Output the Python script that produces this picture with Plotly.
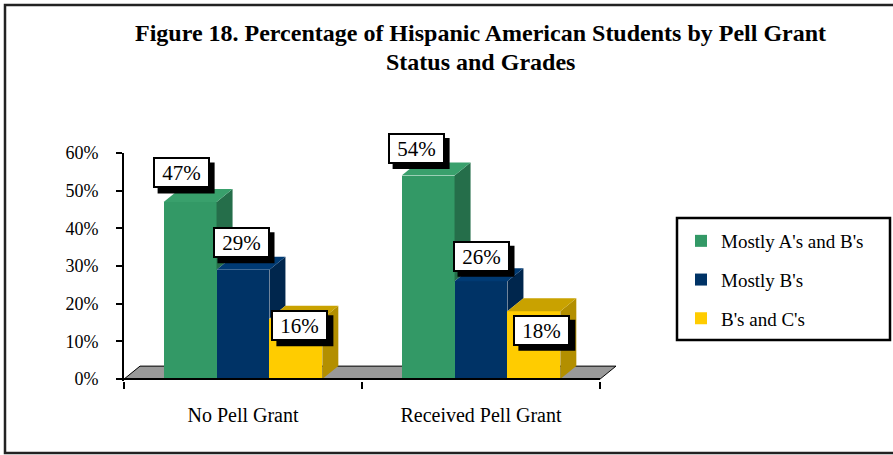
import plotly.graph_objects as go

# ---- data ----
categories = ["No Pell Grant", "Received Pell Grant"]
series_names = ["Mostly A's and B's", "Mostly B's", "B's and C's"]
mostly_ab = [0.47, 0.54]
mostly_b = [0.29, 0.26]
b_and_c = [0.16, 0.18]
y_ticks = [0.0, 0.1, 0.2, 0.3, 0.4, 0.5, 0.6]
title_lines = ["Figure 18. Percentage of Hispanic American Students by Pell Grant",
               "Status and Grades"]

series_values = [mostly_ab, mostly_b, b_and_c]

# ---- styling ----
front_colors = ["#339966", "#003366", "#FFCC00"]
side_colors = ["#256e4a", "#00264d", "#b38f00"]
top_colors = ["#39a06c", "#003a73", "#c9a200"]
FONT = "Liberation Serif"

# Label nudges (pixels) relative to the top-centre of each bar's front face
label_nudge_x = [[-9, -12], [-2, 0], [4, 8]]
label_nudge_y = [[29, 27], [27, 25], [-7, -19]]

# ---- geometry of the plotting area ----
W, H = 893, 455
ML, MR, MT, MB = 124, 273, 153, 74
plot_w = W - ML - MR
plot_h = H - MT - MB
x_lo = -0.5
px_per_x = 238.0
x_hi = x_lo + plot_w / px_per_x
y_lo, y_hi = -0.005, 0.6
px_per_y = plot_h / (y_hi - y_lo)

# 3D depth of bars and floor, converted to data units
dx = 16 / px_per_x
dy = 13 / px_per_y

n = len(series_values)
group_w = 2 / 3
bar_w = group_w / n
offsets = [-group_w / 2 + i * bar_w for i in range(n)]
xpos = list(range(len(categories)))


def px_x(p):
    return (p - ML) / plot_w


def px_y(p):
    return (H - MB - p) / plot_h


def data_to_paper_x(v):
    return (v - x_lo) / (x_hi - x_lo)


def data_to_paper_y(v):
    return (v - y_lo) / (y_hi - y_lo)


fig = go.Figure()

# front faces
for i, (name, vals) in enumerate(zip(series_names, series_values)):
    fig.add_trace(go.Bar(
        x=xpos, y=vals, name=name, width=bar_w, offset=offsets[i],
        marker=dict(color=front_colors[i], line=dict(width=0)),
        legendgroup=name, showlegend=True, hoverinfo="skip",
    ))

# side and top faces (only the parts not hidden by the next bar in the group)
for g, cx in enumerate(xpos):
    for i in range(n):
        v = series_values[i][g]
        x0 = cx + offsets[i]
        x1 = x0 + bar_w
        nxt = series_values[i + 1][g] if i + 1 < n else 0.0
        lo = min(nxt, v)
        side_x = [x1, x1 + dx, x1 + dx, x1, x1]
        side_y = [lo, lo + dy, v + dy, v, lo]
        fig.add_trace(go.Scatter(
            x=side_x, y=side_y, mode="lines", fill="toself",
            fillcolor=side_colors[i], line=dict(width=0, color=side_colors[i]),
            showlegend=False, hoverinfo="skip",
        ))
        top_x = [x0, x1, x1 + dx, x0 + dx, x0]
        top_y = [v, v, v + dy, v + dy, v]
        fig.add_trace(go.Scatter(
            x=top_x, y=top_y, mode="lines", fill="toself",
            fillcolor=top_colors[i], line=dict(width=0, color=top_colors[i]),
            showlegend=False, hoverinfo="skip",
        ))

# floor of the chart and the category axis line
fx0, fx1 = x_lo, x_lo + len(categories)
floor_path = (f"M {fx0},0 L {fx1},0 L {fx1 + dx},{dy} "
              f"L {fx0 + dx},{dy} Z")
shapes = [
    dict(type="path", path=floor_path, xref="x", yref="y", layer="below",
         fillcolor="#999999", line=dict(color="#000000", width=1)),
    dict(type="line", xref="x", yref="y", x0=fx0, x1=fx1, y0=0, y1=0,
         line=dict(color="#000000", width=2)),
]

# outer frame and legend frame
shapes.append(dict(type="rect", xref="paper", yref="paper",
                   x0=px_x(5), x1=px_x(905), y0=px_y(453), y1=px_y(5),
                   line=dict(color="#222222", width=2.5)))
shapes.append(dict(type="rect", xref="paper", yref="paper",
                   x0=px_x(677), x1=px_x(890), y0=px_y(340), y1=px_y(218),
                   line=dict(color="#000000", width=2.5)))

# value labels: black drop shadow (shape) under a white boxed label
BOX_W, BOX_H, SHADOW = 57, 31, 5
annotations = []
for i in range(n):
    for g, cx in enumerate(xpos):
        v = series_values[i][g]
        xc = cx + offsets[i] + bar_w / 2
        ox = label_nudge_x[i][g]
        oy = label_nudge_y[i][g]
        shapes.append(dict(
            type="rect", xref="paper", yref="paper",
            xsizemode="pixel", ysizemode="pixel",
            xanchor=data_to_paper_x(xc), yanchor=data_to_paper_y(v),
            x0=ox - BOX_W / 2 + SHADOW, x1=ox + BOX_W / 2 + SHADOW,
            y0=oy - BOX_H / 2 - SHADOW, y1=oy + BOX_H / 2 - SHADOW,
            fillcolor="#000000", line=dict(width=0), layer="above",
        ))
        annotations.append(dict(
            x=xc, y=v, xref="x", yref="y", text=f"{round(v * 100)}%",
            showarrow=False, xanchor="center", yanchor="middle",
            xshift=ox, yshift=oy,
            font=dict(family=FONT, size=21, color="#000000"),
            bgcolor="#ffffff", bordercolor="#000000", borderwidth=2,
            borderpad=1, width=BOX_W - 6, height=BOX_H - 6,
        ))

# chart title, one annotation per line
for k, (line, cy) in enumerate(zip(title_lines, [33, 62])):
    annotations.append(dict(
        text=f"<b>{line}</b>",
        xref="paper", yref="paper", x=px_x(480), y=px_y(cy),
        xanchor="center", yanchor="middle", showarrow=False,
        font=dict(family=FONT, size=24, color="#000000"),
    ))

fig.update_layout(
    width=W, height=H,
    margin=dict(l=ML, r=MR, t=MT, b=MB, pad=0),
    paper_bgcolor="#ffffff", plot_bgcolor="rgba(0,0,0,0)",
    showlegend=True,
    legend=dict(
        x=px_x(681), y=px_y(222), xanchor="left", yanchor="top",
        xref="paper", yref="paper",
        font=dict(family=FONT, size=19, color="#000000"),
        bgcolor="rgba(0,0,0,0)", borderwidth=0,
        traceorder="grouped", tracegroupgap=11,
    ),
    xaxis=dict(
        range=[x_lo, x_hi], tickmode="array", tickvals=xpos, ticktext=categories,
        ticks="", showgrid=False, zeroline=False, showline=False,
        tickfont=dict(family=FONT, size=20, color="#000000"),
        ticklabelstandoff=20,
        minor=dict(tickmode="array", tickvals=[x_lo + k for k in range(len(categories) + 1)],
                   ticks="outside", ticklen=7, tickwidth=2, tickcolor="#000000",
                   showgrid=False),
    ),
    yaxis=dict(
        range=[y_lo, y_hi], tickmode="array", tickvals=y_ticks, tickformat=".0%",
        ticks="outside", ticklen=6, tickwidth=2, tickcolor="#000000",
        showline=True, linecolor="#000000", linewidth=2,
        showgrid=False, zeroline=False,
        tickfont=dict(family=FONT, size=18, color="#000000"),
        ticklabelstandoff=14,
    ),
    shapes=shapes,
    annotations=annotations,
    bargap=0,
)

fig.write_html("out.html")
